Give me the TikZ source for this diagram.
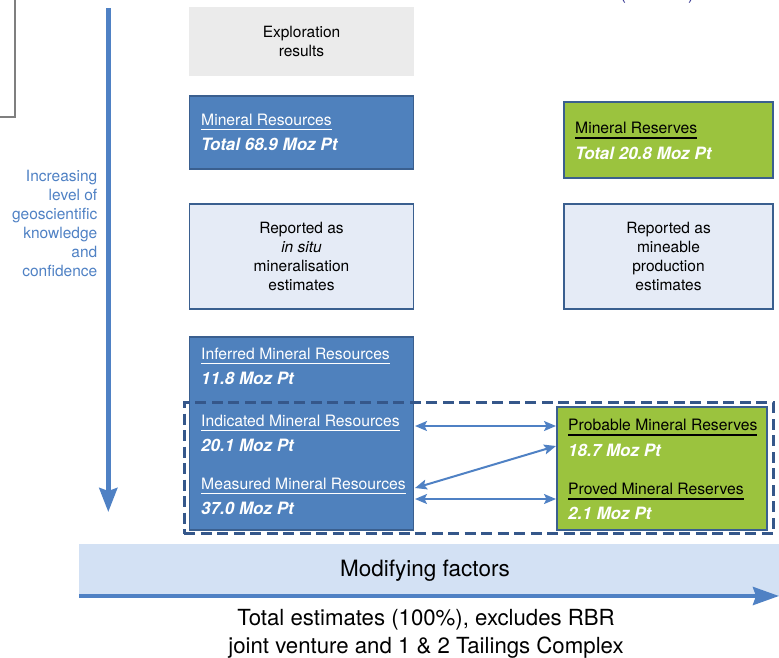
\documentclass[tikz,border=0pt]{standalone}
\usepackage{fontspec}
\setmainfont{TeX Gyre Heros}
\usetikzlibrary{arrows.meta}

\definecolor{resblue}{HTML}{4F81BD}
\definecolor{edgeblue}{HTML}{3A5F8F}
\definecolor{resgreen}{HTML}{9BC33E}
\definecolor{paleblue}{HTML}{E5EBF6}
\definecolor{palegray}{HTML}{EBEBEB}
\definecolor{bandblue}{HTML}{D3E1F4}
\definecolor{arrowblue}{HTML}{4F81C4}
\definecolor{dashblue}{HTML}{35578A}
\definecolor{parenpurple}{HTML}{3A3B94}
\definecolor{framegray}{HTML}{7F7F7F}

% underlined heading: #1 text, #2 rule offset, #3 rule thickness
\newsavebox\headbox
\newcommand\headline[3]{\sbox\headbox{#1}\rlap{\usebox\headbox}\rule[#2]{\wd\headbox}{#3}}
\newcommand\whitehead[1]{\headline{#1}{-5pt}{1.4pt}}
\newcommand\blackhead[1]{\headline{#1}{-6.2pt}{2.4pt}}

\tikzset{
  boxbase/.style={anchor=north west, inner sep=0pt, outer sep=0pt},
  resbox/.style={boxbase, fill=resblue, draw=edgeblue, line width=1.6pt},
  rsvbox/.style={boxbase, fill=resgreen, draw=edgeblue, line width=1.6pt},
  notebox/.style={boxbase, fill=paleblue, draw=edgeblue, line width=1.4pt},
  notetext/.style={align=center, inner sep=0pt, font=\fontsize{15.5}{19}\selectfont},
  heading/.style={anchor=base west, inner sep=0pt, font=\fontsize{15.7}{19}\selectfont},
  amount/.style={anchor=base west, inner sep=0pt, text=white,
    font=\fontsize{17}{19}\selectfont\bfseries\itshape},
  linkarrow/.style={draw=arrowblue, line width=2pt,
    {Stealth[length=12pt,width=10pt,inset=2.5pt]}-{Stealth[length=12pt,width=10pt,inset=2.5pt]}},
  mainarrow/.style={draw=arrowblue, line width=4.5pt,
    -{Stealth[length=24pt,width=18pt,inset=3pt]}},
}

\begin{document}
\begin{tikzpicture}[x=1pt,y=-1pt]
\useasboundingbox (0,0) rectangle (779,657);

% frame entering from the upper left
\draw[framegray, line width=1.3pt] (-10,-10) rectangle (15,117);

% heading brackets running in from above
\node[anchor=base west, inner sep=0pt, text=parenpurple,
  font=\fontsize{18}{20}\selectfont] (unitparen) at (620,-1) {(\hspace{62pt})};

% axis of increasing confidence
\coordinate (axtop) at (108.3,8);
\coordinate (axbot) at (108.3,512);
\draw[mainarrow] (axtop) -- (axbot);
\node[anchor=north east, align=right, inner sep=0pt, text=arrowblue,
  font=\fontsize{15.5}{19}\selectfont] (axislabel) at (97.5,170)
  {Increasing\\level of\\geoscientific\\knowledge\\and\\confidence};

% exploration results
\node[boxbase, fill=palegray, minimum width=225pt, minimum height=69pt] (explore) at (189,7) {};
\node[notetext] (exploretext) at (explore.center) {Exploration\\results};

% totals
\node[resbox, minimum width=224pt, minimum height=73pt] (mres) at (189.5,96) {};
\node[heading, text=white] (mreshead) at (201,125) {\whitehead{Mineral Resources}};
\node[amount] (mresval) at (201,150) {Total 68.9 Moz Pt};

\node[rsvbox, minimum width=209pt, minimum height=76pt] (mrsv) at (564,102) {};
\node[heading, text=black] (mrsvhead) at (575,133) {\blackhead{Mineral Reserves}};
\node[amount] (mrsvval) at (575,159) {Total 20.8 Moz Pt};

% reporting notes
\node[notebox, minimum width=224pt, minimum height=105pt] (insitu) at (189.5,204) {};
\node[notetext] (insitutext) at (insitu.center) {Reported as\\\textit{in situ}\\mineralisation\\estimates};

\node[notebox, minimum width=209pt, minimum height=105pt] (mineable) at (564,204) {};
\node[notetext] (mineabletext) at (mineable.center) {Reported as\\mineable\\production\\estimates};

% resource categories
\node[resbox, minimum width=224pt, minimum height=193pt] (cats) at (189.5,337) {};
\node[heading, text=white] (infhead) at (201,359) {\whitehead{Inferred Mineral Resources}};
\node[amount] (infval) at (201,384) {11.8 Moz Pt};
\node[heading, text=white] (indhead) at (201,426) {\whitehead{Indicated Mineral Resources}};
\node[amount] (indval) at (201,451) {20.1 Moz Pt};
\node[heading, text=white] (meahead) at (201,489) {\whitehead{Measured Mineral Resources}};
\node[amount] (meaval) at (201,514) {37.0 Moz Pt};

% reserve categories
\node[rsvbox, minimum width=210pt, minimum height=123pt] (rsv) at (557,407) {};
\node[heading, text=black] (probhead) at (568,430) {\blackhead{Probable Mineral Reserves}};
\node[amount] (probval) at (568,456) {18.7 Moz Pt};
\node[heading, text=black] (provhead) at (568,494) {\blackhead{Proved Mineral Reserves}};
\node[amount] (provval) at (568,519) {2.1 Moz Pt};

% dashed grouping of convertible categories
\node[boxbase, draw=dashblue, line width=3pt, dash pattern=on 11pt off 5.5pt,
  minimum width=589pt, minimum height=131pt] (group) at (184,402.5) {};

% conversion links
\coordinate (indlink) at (415,426);
\coordinate (mealinkA) at (415,488);
\coordinate (mealinkB) at (415,499);
\coordinate (problink) at (556,426);
\coordinate (probdiag) at (556,446);
\coordinate (provlink) at (556,499);
\draw[linkarrow] (indlink) -- (problink);
\draw[linkarrow] (mealinkA) -- (probdiag);
\draw[linkarrow] (mealinkB) -- (provlink);

% modifying factors band
\node[boxbase, fill=bandblue, minimum width=710pt, minimum height=52pt] (band) at (79,544) {};
\node[inner sep=0pt, font=\fontsize{22.5}{26}\selectfont] (bandtext) at (425,571) {Modifying factors};
\coordinate (bandstart) at (79,596);
\coordinate (bandend) at (779,596);
\draw[draw=arrowblue, line width=4pt, -{Stealth[length=26pt,width=18pt,inset=3pt]}] (bandstart) -- (bandend);

% footnote
\node[align=center, inner sep=0pt, font=\fontsize{22.2}{28}\selectfont] (foot) at (426,634)
  {Total estimates (100\%), excludes RBR\\joint venture and 1 \& 2 Tailings Complex};
\end{tikzpicture}
\end{document}
